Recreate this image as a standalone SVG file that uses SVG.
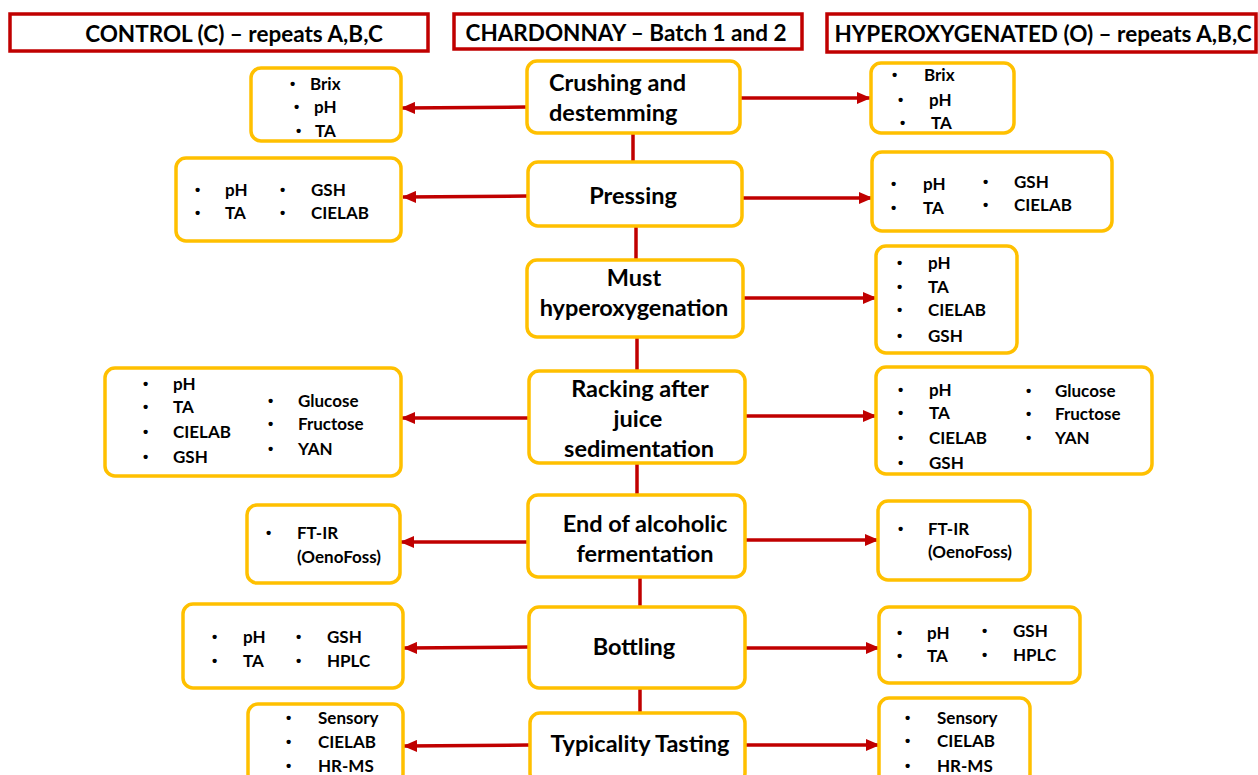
<svg xmlns="http://www.w3.org/2000/svg" width="1258" height="775" viewBox="0 0 1258 775">
<style>
.hdr{fill:#fff;stroke:#C00000;stroke-width:3.5}
.nd{fill:#fff;stroke:#FFC000;stroke-width:3.5}
.ht{font-family:Lato,"Liberation Sans",sans-serif;font-weight:bold;font-size:22.5px;fill:#000;dominant-baseline:central;text-anchor:middle}
.ct{font-family:Lato,"Liberation Sans",sans-serif;font-weight:bold;font-size:23.5px;fill:#000;dominant-baseline:central;text-anchor:middle}
.cs{font-family:Lato,"Liberation Sans",sans-serif;font-weight:bold;font-size:23.5px;fill:#000;dominant-baseline:central;text-anchor:start}
.lt{font-family:Lato,"Liberation Sans",sans-serif;font-weight:bold;font-size:17px;fill:#000;dominant-baseline:central}
.bu{font-family:"Liberation Sans",sans-serif;font-weight:bold;font-size:15px;fill:#000;dominant-baseline:central}
.cn{stroke:#C00000;stroke-width:3.5;fill:none}
.ar{stroke:#C00000;stroke-width:3.5;fill:none;marker-end:url(#ah)}
</style>
<defs>
<marker id="ah" markerWidth="14" markerHeight="12" refX="13" refY="6" orient="auto" markerUnits="userSpaceOnUse">
<path d="M0,0 L14,6 L0,12 Z" fill="#C00000"/>
</marker>
</defs>
<rect width="1258" height="775" fill="#fff"/>

<g id="hdr-control"><rect class="hdr" x="10" y="14" width="418" height="37"/><text class="ht" x="234" y="33">CONTROL (C) – repeats A,B,C</text></g>
<g id="hdr-chardonnay"><rect class="hdr" x="454" y="14" width="348" height="35"/><text class="ht" x="626" y="32">CHARDONNAY – Batch 1 and 2</text></g>
<g id="hdr-hyper"><rect class="hdr" x="827" y="14" width="429" height="38"/><text class="ht" x="1043" y="33">HYPEROXYGENATED (O) – repeats A,B,C</text></g>

<g id="connectors">
<line class="cn" x1="633" y1="133" x2="633" y2="161"/>
<line class="cn" x1="636" y1="226" x2="636" y2="259"/>
<line class="cn" x1="637" y1="337" x2="637" y2="370"/>
<line class="cn" x1="637" y1="463" x2="637" y2="494"/>
<line class="cn" x1="640" y1="577" x2="640" y2="606"/>
<line class="cn" x1="640" y1="688" x2="640" y2="712"/>
<line class="ar" x1="527" y1="107" x2="402" y2="108"/>
<line class="ar" x1="740" y1="98" x2="870" y2="98"/>
<line class="ar" x1="528" y1="196" x2="403" y2="197"/>
<line class="ar" x1="742" y1="198" x2="872" y2="198"/>
<line class="ar" x1="743" y1="298" x2="876" y2="298"/>
<line class="ar" x1="529" y1="418" x2="402" y2="418"/>
<line class="ar" x1="745" y1="416" x2="876" y2="416"/>
<line class="ar" x1="528" y1="542" x2="401" y2="542"/>
<line class="ar" x1="745" y1="540" x2="878" y2="540"/>
<line class="ar" x1="529" y1="647" x2="404" y2="648"/>
<line class="ar" x1="745" y1="648" x2="879" y2="648"/>
<line class="ar" x1="530" y1="745" x2="404" y2="746"/>
<line class="ar" x1="745" y1="745" x2="879" y2="745"/>
</g>

<g id="n-crushing"><rect class="nd" x="527" y="61" width="213" height="72" rx="10"/><text class="cs" x="549" y="82">Crushing and</text><text class="cs" x="549" y="112">destemming</text></g>
<g id="n-pressing"><rect class="nd" x="528" y="162" width="214" height="64" rx="10"/><text class="ct" x="633" y="195">Pressing</text></g>
<g id="n-must"><rect class="nd" x="527" y="260" width="216" height="77" rx="10"/><text class="ct" x="634" y="277">Must</text><text class="ct" x="634" y="307">hyperoxygenation</text></g>
<g id="n-racking"><rect class="nd" x="529" y="371" width="216" height="92" rx="10"/><text class="ct" x="640" y="388">Racking after</text><text class="ct" x="638" y="418">juice</text><text class="ct" x="639" y="448">sedimentation</text></g>
<g id="n-end"><rect class="nd" x="528" y="495" width="217" height="82" rx="10"/><text class="ct" x="645" y="523">End of alcoholic</text><text class="ct" x="645" y="553">fermentation</text></g>
<g id="n-bottling"><rect class="nd" x="529" y="607" width="216" height="81" rx="10"/><text class="ct" x="634" y="646">Bottling</text></g>
<g id="n-typicality"><rect class="nd" x="530" y="713" width="215" height="70" rx="10"/><text class="ct" x="640" y="743">Typicality Tasting</text></g>

<g id="l-crushing"><rect class="nd" x="251" y="68" width="150" height="73" rx="10"/>
<text class="bu" x="290" y="83">•</text><text class="lt" x="310" y="83">Brix</text>
<text class="bu" x="294" y="106">•</text><text class="lt" x="314" y="106">pH</text>
<text class="bu" x="296" y="130">•</text><text class="lt" x="315" y="130">TA</text></g>

<g id="l-pressing"><rect class="nd" x="176" y="158" width="225" height="83" rx="10"/>
<text class="bu" x="195" y="189">•</text><text class="lt" x="225" y="189">pH</text>
<text class="bu" x="195" y="212">•</text><text class="lt" x="225" y="212">TA</text>
<text class="bu" x="280" y="189">•</text><text class="lt" x="311" y="189">GSH</text>
<text class="bu" x="280" y="212">•</text><text class="lt" x="311" y="212">CIELAB</text></g>

<g id="l-racking"><rect class="nd" x="105" y="368" width="296" height="108" rx="10"/>
<text class="bu" x="143" y="383">•</text><text class="lt" x="173" y="383">pH</text>
<text class="bu" x="143" y="406">•</text><text class="lt" x="173" y="406">TA</text>
<text class="bu" x="143" y="431">•</text><text class="lt" x="173" y="431">CIELAB</text>
<text class="bu" x="143" y="456">•</text><text class="lt" x="173" y="456">GSH</text>
<text class="bu" x="268" y="400">•</text><text class="lt" x="298" y="400">Glucose</text>
<text class="bu" x="268" y="423">•</text><text class="lt" x="298" y="423">Fructose</text>
<text class="bu" x="268" y="448">•</text><text class="lt" x="298" y="448">YAN</text></g>

<g id="l-end"><rect class="nd" x="247" y="505" width="153" height="78" rx="10"/>
<text class="bu" x="266" y="532">•</text><text class="lt" x="297" y="532">FT-IR</text><text class="lt" x="297" y="556">(OenoFoss)</text></g>

<g id="l-bottling"><rect class="nd" x="183" y="604" width="220" height="84" rx="10"/>
<text class="bu" x="212" y="636">•</text><text class="lt" x="243" y="636">pH</text>
<text class="bu" x="212" y="660">•</text><text class="lt" x="243" y="660">TA</text>
<text class="bu" x="296" y="636">•</text><text class="lt" x="327" y="636">GSH</text>
<text class="bu" x="296" y="660">•</text><text class="lt" x="327" y="660">HPLC</text></g>

<g id="l-typicality"><rect class="nd" x="248" y="704" width="155" height="80" rx="10"/>
<text class="bu" x="286" y="717">•</text><text class="lt" x="318" y="717">Sensory</text>
<text class="bu" x="286" y="741">•</text><text class="lt" x="318" y="741">CIELAB</text>
<text class="bu" x="286" y="765">•</text><text class="lt" x="318" y="765">HR-MS</text></g>

<g id="r-crushing"><rect class="nd" x="871" y="63" width="143" height="70" rx="10"/>
<text class="bu" x="892" y="74">•</text><text class="lt" x="924" y="74">Brix</text>
<text class="bu" x="898" y="99">•</text><text class="lt" x="929" y="99">pH</text>
<text class="bu" x="900" y="122">•</text><text class="lt" x="931" y="122">TA</text></g>

<g id="r-pressing"><rect class="nd" x="872" y="152" width="240" height="79" rx="10"/>
<text class="bu" x="891" y="183">•</text><text class="lt" x="923" y="183">pH</text>
<text class="bu" x="891" y="207">•</text><text class="lt" x="923" y="207">TA</text>
<text class="bu" x="983" y="181">•</text><text class="lt" x="1014" y="181">GSH</text>
<text class="bu" x="983" y="204">•</text><text class="lt" x="1014" y="204">CIELAB</text></g>

<g id="r-must"><rect class="nd" x="876" y="246" width="141" height="107" rx="10"/>
<text class="bu" x="897" y="262">•</text><text class="lt" x="928" y="262">pH</text>
<text class="bu" x="897" y="286">•</text><text class="lt" x="928" y="286">TA</text>
<text class="bu" x="897" y="309">•</text><text class="lt" x="928" y="309">CIELAB</text>
<text class="bu" x="897" y="335">•</text><text class="lt" x="928" y="335">GSH</text></g>

<g id="r-racking"><rect class="nd" x="876" y="367" width="276" height="107" rx="10"/>
<text class="bu" x="898" y="389">•</text><text class="lt" x="929" y="389">pH</text>
<text class="bu" x="898" y="412">•</text><text class="lt" x="929" y="412">TA</text>
<text class="bu" x="898" y="437">•</text><text class="lt" x="929" y="437">CIELAB</text>
<text class="bu" x="898" y="462">•</text><text class="lt" x="929" y="462">GSH</text>
<text class="bu" x="1026" y="390">•</text><text class="lt" x="1055" y="390">Glucose</text>
<text class="bu" x="1026" y="413">•</text><text class="lt" x="1055" y="413">Fructose</text>
<text class="bu" x="1026" y="437">•</text><text class="lt" x="1055" y="437">YAN</text></g>

<g id="r-end"><rect class="nd" x="878" y="501" width="152" height="79" rx="10"/>
<text class="bu" x="898" y="528">•</text><text class="lt" x="928" y="528">FT-IR</text><text class="lt" x="928" y="551">(OenoFoss)</text></g>

<g id="r-bottling"><rect class="nd" x="879" y="607" width="201" height="76" rx="10"/>
<text class="bu" x="897" y="632">•</text><text class="lt" x="927" y="632">pH</text>
<text class="bu" x="897" y="655">•</text><text class="lt" x="927" y="655">TA</text>
<text class="bu" x="982" y="630">•</text><text class="lt" x="1013" y="630">GSH</text>
<text class="bu" x="982" y="654">•</text><text class="lt" x="1013" y="654">HPLC</text></g>

<g id="r-typicality"><rect class="nd" x="879" y="698" width="151" height="86" rx="10"/>
<text class="bu" x="905" y="717">•</text><text class="lt" x="937" y="717">Sensory</text>
<text class="bu" x="905" y="740">•</text><text class="lt" x="937" y="740">CIELAB</text>
<text class="bu" x="905" y="765">•</text><text class="lt" x="937" y="765">HR-MS</text></g>
</svg>
